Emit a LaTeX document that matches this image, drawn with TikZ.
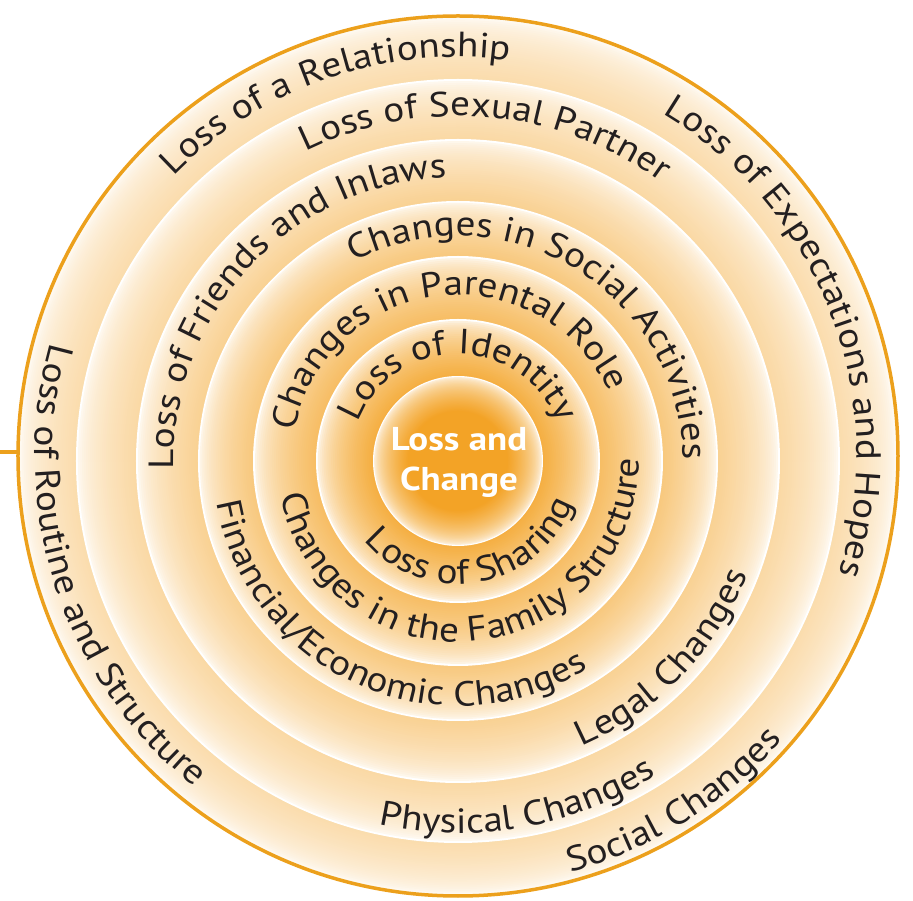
\documentclass[tikz,border=0pt]{standalone}
\usepackage{fontspec}
\setmainfont{PT Sans}[FakeStretch=1.12]
\usetikzlibrary{decorations.text}
\definecolor{ringorange}{RGB}{243,163,38}
\definecolor{rimorange}{RGB}{236,160,28}
\definecolor{textdark}{RGB}{35,31,32}
\newcommand{\ringfont}{\fontsize{35}{40}\selectfont}

\begin{document}
\begin{tikzpicture}[
    x=1pt, y=1pt,
    rim/.style={draw=rimorange, line width=3.5pt},
    arclabel/.style={decorate, decoration={text along path, text align=center}},
    core/.style={align=center, text=white, font=\fontsize{33}{40}\selectfont\bfseries},
    ]
    \useasboundingbox (-458,-445) rectangle (455,456);

    % Rings, white at the outer edge, orange towards the inner edge
    \foreach \rin/\rout/\pct/\yout/\yin in {382/440/38/0/-5, 322/382/42/-5/-5, 260/322/50/-5/-5, 205/260/60/-5/-5, 142/205/72/-5/-5, 85/142/88/-5/-5, 50/85/100/-5/-5} {
        \foreach \k in {0,...,30} {
            \pgfmathsetmacro\rr{\rout-(\rout-\rin)*\k/30}
            \pgfmathsetmacro\cy{\yout+(\yin-\yout)*\k/30}
            \pgfmathsetmacro\cc{\pct*sqrt(\k/30)}
            \fill[ringorange!\cc!white] (0,\cy) circle[radius=\rr];
        }
    }

    \draw[rim] (0,0) circle[radius=440];
    \coordinate (stub) at (-458,4);
    \coordinate (edge) at (-440,4);
    \draw[rim] (stub) -- (edge);

    % Labels of the outer ring
    \path[arclabel, decoration={text={|\ringfont\color{textdark}|Loss of a Relationship}}] (209:399) arc[start angle=209, end angle=9, radius=399];
    \path[arclabel, decoration={text={|\ringfont\color{textdark}|Loss of Expectations and Hopes}}] (121:399) arc[start angle=121, end angle=-79, radius=399];
    \path[arclabel, decoration={text={|\ringfont\color{textdark}|Loss of Routine and Structure}}] (98:423) arc[start angle=98, end angle=298, radius=423];
    \path[arclabel, decoration={text={|\ringfont\color{textdark}|Social Changes}}] (202:431) arc[start angle=202, end angle=402, radius=431];

    % Labels of the inner rings
    \begin{scope}[shift={(0,-5)}]
    \path[arclabel, decoration={text={|\ringfont\color{textdark}|Loss of Identity}}] (190:107) arc[start angle=190, end angle=-10, radius=107];
    \path[arclabel, decoration={text={|\ringfont\color{textdark}|Loss of Sharing}}] (180:123) arc[start angle=180, end angle=380, radius=123];
    \path[arclabel, decoration={text={|\ringfont\color{textdark}|Changes in Parental Role}}] (197:166) arc[start angle=197, end angle=-3, radius=166];
    \path[arclabel, decoration={text={|\ringfont\color{textdark}|Changes in the Family Structure}}] (176:181) arc[start angle=176, end angle=376, radius=181];
    \path[arclabel, decoration={text={|\ringfont\color{textdark}|Changes in Social Activities}}] (159:225) arc[start angle=159, end angle=-41, radius=225];
    \path[arclabel, decoration={text={|\ringfont\color{textdark}|Financial/Economic Changes}}] (146:245) arc[start angle=146, end angle=346, radius=245];
    \path[arclabel, decoration={text={|\ringfont\color{textdark}|Loss of Friends and Inlaws}}] (237:284) arc[start angle=237, end angle=37, radius=284];
    \path[arclabel, decoration={text={|\ringfont\color{textdark}|Legal Changes}}] (216:311) arc[start angle=216, end angle=416, radius=311];
    \path[arclabel, decoration={text={|\ringfont\color{textdark}|Loss of Sexual Partner}}] (185:345) arc[start angle=185, end angle=-15, radius=345];
    \path[arclabel, decoration={text={|\ringfont\color{textdark}|Physical Changes}}] (180:372) arc[start angle=180, end angle=380, radius=372];
    \end{scope}

    \node (C) [core] at (1,-6) {Loss and\\Change};
\end{tikzpicture}
\end{document}
